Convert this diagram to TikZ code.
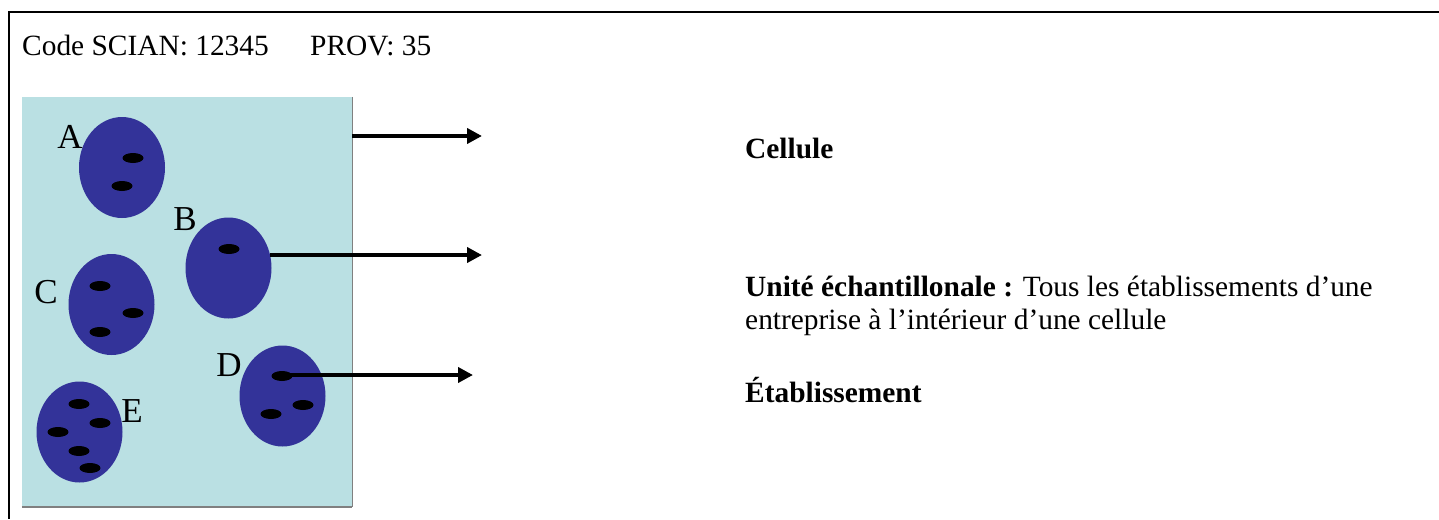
\documentclass[tikz,border=0pt]{standalone}
\usepackage{fontspec}
\setmainfont{Liberation Serif}
\usetikzlibrary{shapes.geometric,arrows.meta}
\definecolor{cellbg}{RGB}{186,224,227}
\definecolor{unitblue}{RGB}{51,51,153}
\definecolor{shadowgray}{RGB}{128,128,128}
\tikzset{
  unit/.style={ellipse, fill=unitblue, draw=none, inner sep=0pt, minimum width=86pt, minimum height=101pt},
  nuc/.style={ellipse, fill=black, draw=none, inner sep=0pt, minimum width=21pt, minimum height=10pt},
  letter/.style={inner sep=0pt, font=\fontsize{35}{35}\selectfont},
  txt/.style={inner sep=0pt, anchor=base west, font=\fontsize{29.4}{33}\selectfont},
  arr/.style={line width=4.5pt, -{Triangle[length=15pt,width=15pt]}},
}
\begin{document}
\begin{tikzpicture}[x=1pt,y=-1pt]
\useasboundingbox (0,0) rectangle (1439,519);
% frame
\coordinate (ftr) at (1439,12);
\coordinate (ftl) at (9,12);
\coordinate (fbl) at (9,519);
\draw[line width=2pt] (ftr) -- (ftl) -- (fbl);
% header
\node[txt] (code) at (22,56) {Code SCIAN: 12345};
\node[txt] (prov) at (310,56) {PROV: 35};
% cell area
\node[fill=cellbg, draw=none, inner sep=0pt, minimum width=330pt, minimum height=410pt] (cellrect) at (187,302) {};
\draw[shadowgray, line width=2.5pt] (cellrect.south west) -- (cellrect.south east);
\draw[shadowgray, line width=0.8pt] (cellrect.north east) -- (cellrect.south east);
% units
\node[unit] (A) at (122,167.5) {};
\node[unit] (B) at (228.5,268) {};
\node[unit] (C) at (111.5,304.5) {};
\node[unit] (D) at (282.5,396) {};
\node[unit] (E) at (79.5,432) {};
% establishments
\node[nuc] (A1) at (133,158) {};
\node[nuc] (A2) at (122,186) {};
\node[nuc] (B1) at (229,249) {};
\node[nuc] (C1) at (100,286) {};
\node[nuc] (C2) at (133,313) {};
\node[nuc] (C3) at (100,332) {};
\node[nuc] (D1) at (282,376) {};
\node[nuc] (D2) at (303,405) {};
\node[nuc] (D3) at (271,414) {};
\node[nuc] (E1) at (79,404) {};
\node[nuc] (E2) at (100,423) {};
\node[nuc] (E3) at (58,432) {};
\node[nuc] (E4) at (79,451) {};
\node[nuc] (E5) at (90,468) {};
% letters
\node[letter] (lA) at (70,137) {A};
\node[letter] (lB) at (185,219) {B};
\node[letter] (lC) at (46,292) {C};
\node[letter] (lD) at (229,365) {D};
\node[letter] (lE) at (132,411) {E};
% arrows
\coordinate (e1) at (482,136);
\coordinate (s2) at (270,255);
\coordinate (e2) at (482,255);
\coordinate (e3) at (473,375);
\draw[arr] (cellrect.east |- e1) -- (e1);
\draw[arr] (s2) -- (e2);
\draw[arr] (D1.center) ++(4,-1) -- (e3);
% legend
\node[txt] (t1) at (745,158) {\textbf{Cellule}};
\node[txt] (t2) at (745,296) {\textbf{Unité échantillonale :} Tous les établissements d’une};
\node[txt] (t3) at (745,329) {entreprise à l’intérieur d’une cellule};
\node[txt] (t4) at (745,402) {\textbf{Établissement}};
\end{tikzpicture}
\end{document}
